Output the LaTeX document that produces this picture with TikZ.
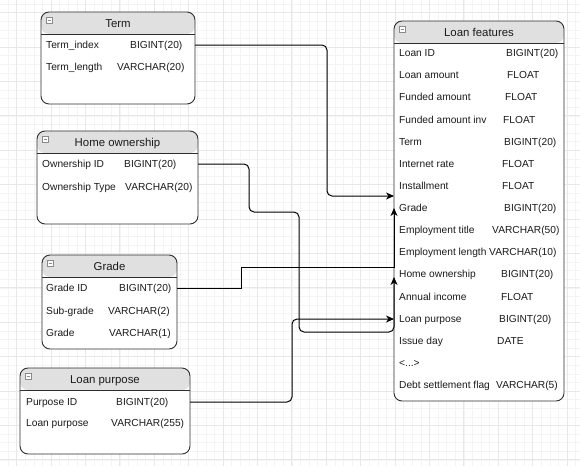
\documentclass[tikz,border=0pt]{standalone}
\usepackage{fontspec}
\setmainfont{Liberation Sans}
\usetikzlibrary{arrows.meta}

\definecolor{gridminor}{HTML}{F4F4F4}
\definecolor{gridmajor}{HTML}{E8E8E8}
\definecolor{headfill}{HTML}{E0E0E0}
\definecolor{edgecol}{HTML}{2E2E2E}
\definecolor{txt}{HTML}{1A1A1A}
\definecolor{iconcol}{HTML}{8A8A8A}

\tikzset{
  entity/.style={draw=edgecol, line width=0.9pt, fill=white, rounded corners=8pt,
    inner sep=0pt, outer sep=0pt, anchor=north west,
    path picture={\fill[headfill] (path picture bounding box.north west)
      rectangle ([yshift=-22pt]path picture bounding box.north east);}},
  divider/.style={draw=edgecol, line width=0.9pt},
  title/.style={font=\fontsize{11.4}{13}\selectfont, text=txt, inner sep=0pt,
    text height=8.2pt, text depth=0pt},
  field/.style={font=\fontsize{10.2}{12}\selectfont, text=txt, anchor=west,
    inner sep=0pt, text height=7.3pt, text depth=0pt},
  iconbox/.style={draw=iconcol, fill=white, line width=0.6pt},
  conn/.style={draw=black, line width=1pt, rounded corners=5pt},
  tip/.style={-{Stealth[length=8pt,width=7pt,inset=2.5pt]}},
}

% placeholder row of the loan table
\newcommand\omittedrows{<...>}

% #1 name, #2 left, #3 top, #4 right, #5 bottom, #6 title
\newcommand\erentity[6]{%
  \node[entity, minimum width={#4-#2}, minimum height={#5-#3}] (#1) at (#2,#3) {};
  \draw[divider] ([yshift=-22pt]#1.north west) -- ([yshift=-22pt]#1.north east);
  \node[title] (#1-title) at ([yshift=-11pt]#1.north) {#6};
  \draw[iconbox] ([xshift=5pt,yshift=-5pt]#1.north west) rectangle ++(6,6);
  \draw[iconcol, line width=0.6pt] ([xshift=6.5pt,yshift=-8pt]#1.north west) -- ++(3,0);
}

\begin{document}
\begin{tikzpicture}[x=1pt, y=-1pt]
\useasboundingbox (0,0) rectangle (580,466);
\fill[white] (0,0) rectangle (580,466);

% background grid
\foreach \i in {0,...,66}
  \draw[gridminor, line width=0.6pt] ({8+8.6*\i},0) -- ({8+8.6*\i},466);
\foreach \j in {0,...,53}
  \draw[gridminor, line width=0.6pt] (0,{4+8.6*\j}) -- (580,{4+8.6*\j});
\foreach \i in {0,...,16}
  \draw[gridmajor, line width=0.7pt] ({16.6+34.4*\i},0) -- ({16.6+34.4*\i},466);
\foreach \j in {0,...,13}
  \draw[gridmajor, line width=0.7pt] (0,{12.6+34.4*\j}) -- (580,{12.6+34.4*\j});

% Term
\erentity{term}{41}{12}{195}{104}{Term}
\node[field] (t-f1) at (46,45) {Term\_index};
\node[field] (t-t1) at (130,45) {BIGINT(20)};
\node[field] (t-f2) at (46,67) {Term\_length};
\node[field] (t-t2) at (117,67) {VARCHAR(20)};

% Home ownership
\erentity{home}{37}{131}{198}{224}{Home ownership}
\node[field] (h-f1) at (42,164) {Ownership ID};
\node[field] (h-t1) at (124,164) {BIGINT(20)};
\node[field] (h-f2) at (42,187) {Ownership Type};
\node[field] (h-t2) at (125,187) {VARCHAR(20)};

% Grade
\erentity{grade}{42}{255}{177}{349}{Grade}
\node[field] (g-f1) at (46,288) {Grade ID};
\node[field] (g-t1) at (119,288) {BIGINT(20)};
\node[field] (g-f2) at (46,311) {Sub-grade};
\node[field] (g-t2) at (108,311) {VARCHAR(2)};
\node[field] (g-f3) at (46,333) {Grade};
\node[field] (g-t3) at (109,333) {VARCHAR(1)};

% Loan purpose
\erentity{purpose}{20}{368}{190}{454}{Loan purpose}
\node[field] (p-f1) at (26,402) {Purpose ID};
\node[field] (p-t1) at (116,402) {BIGINT(20)};
\node[field] (p-f2) at (26,423) {Loan purpose};
\node[field] (p-t2) at (111,423) {VARCHAR(255)};

% Loan features
\erentity{lf}{394}{21}{564}{401}{Loan features}
\foreach \f/\t/\tx [count=\i] in {
    Loan ID/BIGINT(20)/506,
    Loan amount/FLOAT/507,
    Funded amount/FLOAT/505,
    Funded amount inv/FLOAT/503,
    Term/BIGINT(20)/504,
    Internet rate/FLOAT/502,
    Installment/FLOAT/502,
    Grade/BIGINT(20)/504,
    Employment title/VARCHAR(50)/492,
    Employment length/VARCHAR(10)/489,
    Home ownership/BIGINT(20)/501,
    Annual income/FLOAT/501,
    Loan purpose/BIGINT(20)/499,
    Issue day/DATE/497,
    \omittedrows//497,
    Debt settlement flag/VARCHAR(5)/496}{
  \node[field] (lf-f\i) at (399,{53+22.13*(\i-1)}) {\f};
  \node[field] (lf-t\i) at (\tx,{53+22.13*(\i-1)}) {\t};
}

% relations
\draw[conn, tip] (term.east |- t-f1) -- (327,45) -- (327,196) -- (lf.west |- 0,196);
\draw[conn, tip] (home.east |- h-f1) -- (249,164) -- (249,212) -- (299,212)
  -- (299,332) -- (lf.west |- 0,332) -- (lf.west |- 0,277);
\draw[conn, sharp corners, tip] (grade.east |- g-f1) -- (241,288) -- (241,267)
  -- (lf.west |- 0,267) -- (lf.west |- 0,208);
\draw[conn, tip] (purpose.east |- p-f1) -- (292,402) -- (292,319) -- (lf.west |- 0,319);
\end{tikzpicture}
\end{document}
